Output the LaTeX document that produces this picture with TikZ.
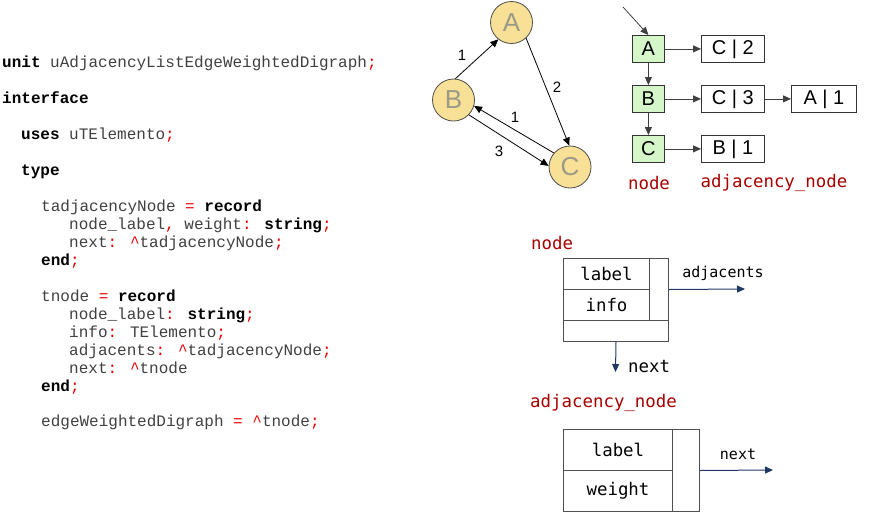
\documentclass[tikz,border=0pt]{standalone}
\usepackage{fontspec}
\setmainfont{Liberation Sans}
\newfontfamily\codefont{Liberation Mono}
\newfontfamily\consfont{DejaVu Sans Mono}
\usetikzlibrary{arrows.meta}
\definecolor{codegray}{HTML}{404040}
\definecolor{codered}{HTML}{E80000}
\definecolor{darkred}{HTML}{A80000}
\definecolor{navy}{HTML}{203864}
\definecolor{circfill}{HTML}{F8E197}
\definecolor{circtext}{HTML}{9A9A88}
\definecolor{boxgreen}{HTML}{D5F6C8}
\definecolor{recline}{HTML}{505050}
\newcommand{\kw}[1]{\textbf{\color{black}#1}}
\newcommand{\pn}[1]{{\color{codered}#1}}
\begin{document}
\begin{tikzpicture}[x=1pt,y=-1pt,
  code/.style={anchor=base west, inner sep=0pt, text=codegray, font=\codefont\fontsize{16}{18}\selectfont},
  gnode/.style={circle, draw=black!70, fill=circfill, line width=0.8pt, minimum size=42pt, inner sep=0pt, text=circtext, font=\fontsize{26}{28}\selectfont},
  garrow/.style={-{Triangle[length=8pt,width=7pt]}, line width=0.8pt, black},
  elabel/.style={inner sep=0pt, font=\fontsize{15}{17}\selectfont},
  lnode/.style={draw=black!80, fill=boxgreen, line width=0.8pt, minimum width=32pt, minimum height=27pt, inner sep=0pt, anchor=north west, font=\fontsize{20}{22}\selectfont},
  anode/.style={draw=black!80, line width=0.8pt, minimum height=27pt, inner sep=0pt, anchor=north west, font=\fontsize{20}{22}\selectfont},
  larrow/.style={-{Triangle[length=8pt,width=7pt]}, line width=0.8pt, black!75},
  title/.style={inner sep=0pt, text=darkred, font=\consfont\fontsize{17.4}{19}\selectfont},
  cell/.style={draw=recline, line width=1pt, inner sep=0pt, anchor=north west, font=\consfont\fontsize{17.4}{19}\selectfont},
  narrow/.style={-{Triangle[length=8pt,width=7pt]}, line width=1pt, navy},
  small/.style={inner sep=0pt, font=\consfont\fontsize{15}{17}\selectfont},
  big/.style={inner sep=0pt, font=\consfont\fontsize{17.4}{19}\selectfont}
]
\useasboundingbox (0,0) rectangle (870,515);

% ---------- code ----------
\node[code] (c1)  at (2,67)   {\kw{unit} uAdjacencyListEdgeWeightedDigraph\pn{;}};
\node[code] (c2)  at (2,103)  {\kw{interface}};
\node[code] (c3)  at (21,139) {\kw{uses} uTElemento\pn{;}};
\node[code] (c4)  at (21,175) {\kw{type}};
\node[code] (c5)  at (41,211) {tadjacencyNode \pn{=} \kw{record}};
\node[code] (c6)  at (69,229) {node\_label\pn{,} weight\pn{:} \kw{string}\pn{;}};
\node[code] (c7)  at (69,247) {next\pn{: \textasciicircum}tadjacencyNode\pn{;}};
\node[code] (c8)  at (41,265) {\kw{end}\pn{;}};
\node[code] (c9)  at (41,301) {tnode \pn{=} \kw{record}};
\node[code] (c10) at (69,319) {node\_label\pn{:} \kw{string}\pn{;}};
\node[code] (c11) at (69,337) {info\pn{:} TElemento\pn{;}};
\node[code] (c12) at (69,355) {adjacents\pn{: \textasciicircum}tadjacencyNode\pn{;}};
\node[code] (c13) at (69,373) {next\pn{: \textasciicircum}tnode};
\node[code] (c14) at (41,391) {\kw{end}\pn{;}};
\node[code] (c15) at (41,426) {edgeWeightedDigraph \pn{= \textasciicircum}tnode\pn{;}};

% ---------- graph ----------
\node[gnode] (A) at (511.5,22.5) {A};
\node[gnode] (B) at (453.5,100) {B};
\node[gnode] (C) at (570,167) {C};
\draw[garrow] (B.85) -- (A.232);
\draw[garrow] (A.-47) -- (C.92);
\draw[garrow] (C.139) -- (B.-16);
\draw[garrow] (B.-44) -- (C.177);
\node[elabel] (w1) at (462,55) {1};
\node[elabel] (w2) at (557,87) {2};
\node[elabel] (w3) at (515,117) {1};
\node[elabel] (w4) at (499,151) {3};

% ---------- adjacency list ----------
\coordinate (start) at (623,7);
\node[lnode] (LA) at (632,35) {A};
\node[lnode] (LB) at (632,85) {B};
\node[lnode] (LC) at (632,135) {C};
\node[anode, minimum width=63pt] (AC2) at (701,35) {C | 2};
\node[anode, minimum width=63pt] (AC3) at (701,85) {C | 3};
\node[anode, minimum width=65pt] (AA1) at (791,85) {A | 1};
\node[anode, minimum width=63pt] (AB1) at (701,135) {B | 1};
\draw[larrow] (start) -- (LA.north);
\draw[larrow] (LA) -- (LB);
\draw[larrow] (LB) -- (LC);
\draw[larrow] (LA) -- (AC2);
\draw[larrow] (LB) -- (AC3);
\draw[larrow] (AC3) -- (AA1);
\draw[larrow] (LC) -- (AB1);
\node[title] (tnode1) at (649,183) {node};
\node[title] (tadj1) at (774,183) {adjacency\_node};

% ---------- node record ----------
\node[title, anchor=west] (tnode2) at (531,243) {node};
\node[cell, minimum width=86pt, minimum height=31pt] (nlabel) at (563,258) {label};
\node[cell, minimum width=86pt, minimum height=31pt] (ninfo) at (563,289) {info};
\node[cell, minimum width=19pt, minimum height=62pt] (nptr) at (649,258) {};
\node[cell, minimum width=105pt, minimum height=21pt] (nnext) at (563,320) {};
\coordinate (adjend) at (745,289);
\coordinate (nextend) at (615.5,372);
\draw[narrow] (nptr.east) -- (adjend);
\draw[narrow] (nnext.south) -- (nextend);
\node[small] (adjtxt) at (723,273) {adjacents};
\node[big, anchor=west] (nexttxt) at (628,367) {next};

% ---------- adjacency record ----------
\node[title, anchor=west] (tadj2) at (530,403) {adjacency\_node};
\node[cell, minimum width=109pt, minimum height=41pt] (alabel) at (563,429) {label};
\node[cell, minimum width=109pt, minimum height=41pt] (aweight) at (563,470) {weight};
\node[cell, minimum width=27pt, minimum height=82pt] (anext) at (672,429) {};
\coordinate (anextend) at (773,470);
\draw[narrow] (anext.east) -- (anextend);
\node[small] (anexttxt) at (738,454) {next};
\end{tikzpicture}
\end{document}
